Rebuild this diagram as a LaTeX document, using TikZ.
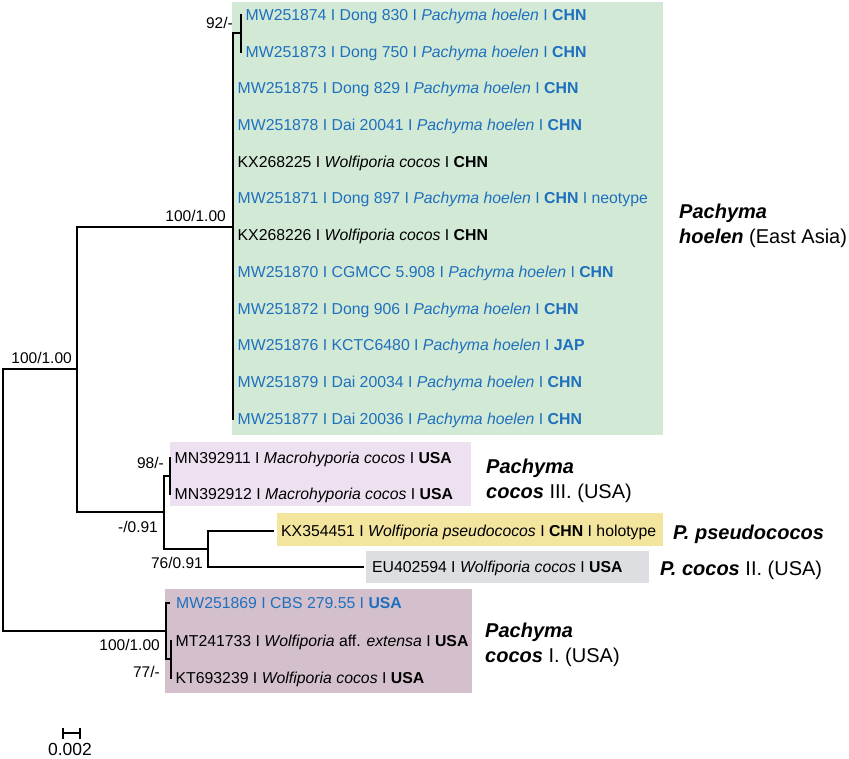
\documentclass[tikz,border=0pt]{standalone}
\usepackage{fontspec}
\setmainfont{Liberation Sans}
\definecolor{leafblue}{RGB}{30,112,190}
\definecolor{boxgreen}{RGB}{210,233,214}
\definecolor{boxlav}{RGB}{237,224,240}
\definecolor{boxyel}{RGB}{243,228,158}
\definecolor{boxgray}{RGB}{221,222,226}
\definecolor{boxmauve}{RGB}{211,192,204}
\tikzset{
  branch/.style={line width=1.2pt, line cap=rect},
  leaf/.style={anchor=west, inner xsep=4.5pt, inner ysep=0pt, text height=11.3pt, text depth=0pt, font=\fontsize{15.8}{18}\selectfont},
  bleaf/.style={leaf, text=leafblue},
  support/.style={anchor=east, inner sep=0pt, text height=11.1pt, text depth=0pt, font=\fontsize{15.5}{18}\selectfont},
  clade/.style={anchor=west, inner sep=0pt, align=left, font=\fontsize{20}{25}\selectfont},
}
\newcommand{\sep}{\ I\ }
\begin{document}
\begin{tikzpicture}[x=1pt,y=-1pt]
\useasboundingbox (0,0) rectangle (849,758);
% boxes
\fill[boxgreen] (232,2) rectangle (663,435);
\fill[boxlav] (170,442) rectangle (471,506);
\fill[boxyel] (277,513) rectangle (663,546);
\fill[boxgray] (366,551) rectangle (649,583);
\fill[boxmauve] (165,589) rectangle (472,693);
% internal nodes
\coordinate (root) at (3,501);
\coordinate (n1) at (77,369);
\coordinate (g) at (233,227);
\coordinate (g92) at (241,33);
\coordinate (nA) at (164,512);
\coordinate (n98) at (170,476);
\coordinate (n76) at (208,549);
\coordinate (n5) at (166,631);
\coordinate (n77) at (171,659);
% leaves
\node[bleaf] (l1) at (241,15) {MW251874\sep Dong 830\sep \textit{Pachyma hoelen}\sep \textbf{CHN}};
\node[bleaf] (l2) at (241,52) {MW251873\sep Dong 750\sep \textit{Pachyma hoelen}\sep \textbf{CHN}};
\node[bleaf] (l3) at (233,88) {MW251875\sep Dong 829\sep \textit{Pachyma hoelen}\sep \textbf{CHN}};
\node[bleaf] (l4) at (233,125) {MW251878\sep Dai 20041\sep \textit{Pachyma hoelen}\sep \textbf{CHN}};
\node[leaf] (l5) at (233,162) {KX268225\sep \textit{Wolfiporia cocos}\sep \textbf{CHN}};
\node[bleaf] (l6) at (233,198) {MW251871\sep Dong 897\sep \textit{Pachyma hoelen}\sep \textbf{CHN}\sep neotype};
\node[leaf] (l7) at (233,235) {KX268226\sep \textit{Wolfiporia cocos}\sep \textbf{CHN}};
\node[bleaf] (l8) at (233,272) {MW251870\sep CGMCC 5.908\sep \textit{Pachyma hoelen}\sep \textbf{CHN}};
\node[bleaf] (l9) at (233,309) {MW251872\sep Dong 906\sep \textit{Pachyma hoelen}\sep \textbf{CHN}};
\node[bleaf] (l10) at (233,345) {MW251876\sep KCTC6480\sep \textit{Pachyma hoelen}\sep \textbf{JAP}};
\node[bleaf] (l11) at (233,382) {MW251879\sep Dai 20034\sep \textit{Pachyma hoelen}\sep \textbf{CHN}};
\node[bleaf] (l12) at (233,419) {MW251877\sep Dai 20036\sep \textit{Pachyma hoelen}\sep \textbf{CHN}};
\node[leaf] (m1) at (170,458) {MN392911\sep \textit{Macrohyporia cocos}\sep \textbf{USA}};
\node[leaf] (m2) at (170,494) {MN392912\sep \textit{Macrohyporia cocos}\sep \textbf{USA}};
\node[leaf, inner xsep=8pt] (ps) at (273,531) {KX354451\sep \textit{Wolfiporia pseudococos}\sep \textbf{CHN}\sep holotype};
\node[leaf, inner xsep=9pt] (eu) at (363,567) {EU402594\sep \textit{Wolfiporia cocos}\sep \textbf{USA}};
\node[bleaf, inner xsep=7pt] (c1) at (169,603) {MW251869\sep CBS 279.55\sep \textbf{USA}};
\node[leaf] (c2) at (171,641) {MT241733\sep \textit{Wolfiporia} aff. \textit{extensa}\sep \textbf{USA}};
\node[leaf] (c3) at (171,678) {KT693239\sep \textit{Wolfiporia cocos}\sep \textbf{USA}};
% branches
\draw[branch] (root) |- (n1);
\draw[branch] (root) |- (n5);
\draw[branch] (n1) |- (g);
\draw[branch] (n1) |- (nA);
\draw[branch] (g) |- (g92);
\foreach \l in {l3,l4,l5,l6,l7,l8,l9,l10,l11,l12} \draw[branch] (g) |- (\l.west);
\draw[branch] (g92) |- (l1.west);
\draw[branch] (g92) |- (l2.west);
\draw[branch] (nA) |- (n98);
\draw[branch] (nA) |- (n76);
\draw[branch] (n98) |- (m1.west);
\draw[branch] (n98) |- (m2.west);
\draw[branch] (n76) |- (ps.west);
\draw[branch] (n76) |- (eu.west);
\draw[branch] (n5) |- (c1.west);
\draw[branch] (n5) |- (n77);
\draw[branch] (n77) |- (c2.west);
\draw[branch] (n77) |- (c3.west);
% support values
\node[support] (s1) at (233,23) {92/-};
\node[support] (s2) at (226,216) {100/1.00};
\node[support] (s3) at (72,358) {100/1.00};
\node[support] (s4) at (164,463) {98/-};
\node[support] (s5) at (158,527) {-/0.91};
\node[support] (s6) at (203,563) {76/0.91};
\node[support] (s7) at (160,645) {100/1.00};
\node[support] (s8) at (160,672) {77/-};
% clade labels
\node[clade] (k1) at (679,226) {\textbf{\textit{Pachyma}}\\\textbf{\textit{hoelen}} (East Asia)};
\node[clade] (k2) at (486,481) {\textbf{\textit{Pachyma}}\\\textbf{\textit{cocos}} III. (USA)};
\node[clade, text height=14.4pt, text depth=0pt] (k3) at (673,532) {\textbf{\textit{P. pseudococos}}};
\node[clade, text height=14.4pt, text depth=0pt] (k4) at (660,568) {\textbf{\textit{P. cocos}} II. (USA)};
\node[clade] (k5) at (485,645) {\textbf{\textit{Pachyma}}\\\textbf{\textit{cocos}} I. (USA)};
% scale bar
\draw[line width=2pt] (63,733) -- (80,733);
\draw[line width=2pt] (63,727.5) -- (63,738.5);
\draw[line width=2pt] (80,727.5) -- (80,738.5);
\node[font=\fontsize{17.5}{20}\selectfont, inner sep=0pt, text height=12.6pt, text depth=0pt] (sb) at (70,749) {0.002};
\end{tikzpicture}
\end{document}
